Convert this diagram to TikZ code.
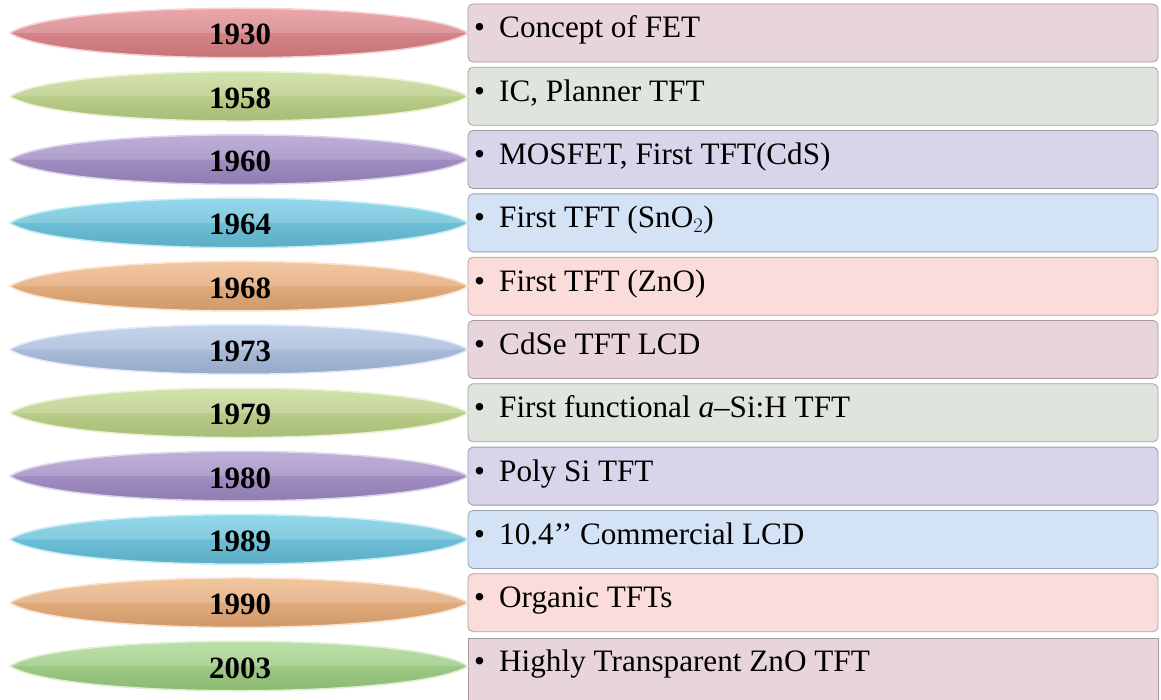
\documentclass[tikz,border=0pt]{standalone}
\usepackage{fontspec}
\setmainfont{Liberation Serif}
\usetikzlibrary{calc, positioning}

% lens colours
\definecolor{lensred}{HTML}{E8868B}
\definecolor{lenslime}{HTML}{C6DE8C}
\definecolor{lenspurple}{HTML}{A891D0}
\definecolor{lenscyan}{HTML}{6ACDEA}
\definecolor{lensorange}{HTML}{F6B47C}
\definecolor{lensblue}{HTML}{B1C8EC}
\definecolor{lensgreen}{HTML}{A4DA86}
% box colours
\definecolor{boxpink}{HTML}{E8D4DD}
\definecolor{boxsage}{HTML}{DFE4DC}
\definecolor{boxlilac}{HTML}{DAD4EA}
\definecolor{boxsky}{HTML}{D3E2F4}
\definecolor{boxrose}{HTML}{FADCDA}

\begin{document}
\begin{tikzpicture}[x=1pt, y=-1pt,
   evbox/.style={draw=#1!72!black, fill=#1, line width=0.8pt, rounded corners=5pt,
      minimum width=690pt, minimum height=58pt, inner sep=0pt},
   lastbox/.style={draw=#1!72!black, fill=#1, line width=0.8pt, sharp corners,
      minimum width=690pt, minimum height=62pt, inner sep=0pt, yshift=-3pt},
   yearlabel/.style={anchor=base, inner sep=0pt, font=\fontsize{31}{34}\selectfont\bfseries},
   evtext/.style={anchor=base west, inner sep=0pt, font=\fontsize{31.2}{34}\selectfont}]
   \useasboundingbox (0,0) rectangle (1161,700);
   \foreach \yr/\txt/\lc/\rc/\bx [count=\i from 0] in {
      1930/{Concept of FET}/lensred/boxpink/evbox,
      1958/{IC, Planner TFT}/lenslime/boxsage/evbox,
      1960/{MOSFET, First TFT(CdS)}/lenspurple/boxlilac/evbox,
      1964/{First TFT (SnO$_2$)}/lenscyan/boxsky/evbox,
      1968/{First TFT (ZnO)}/lensorange/boxrose/evbox,
      1973/{CdSe TFT LCD}/lensblue/boxpink/evbox,
      1979/{First functional \textit{a}–Si:H TFT}/lenslime/boxsage/evbox,
      1980/{Poly Si TFT}/lenspurple/boxlilac/evbox,
      1989/{10.4’’ Commercial LCD}/lenscyan/boxsky/evbox,
      1990/{Organic TFTs}/lensorange/boxrose/evbox,
      2003/{Highly Transparent ZnO TFT}/lensgreen/boxpink/lastbox} {
      \pgfmathsetmacro{\cy}{33+63.3*\i}
      % event box
      \node[\bx=\rc] (box\i) at (813,\cy) {};
      \node[evtext] (ev\i) at (474,\cy+5) {\makebox[25pt][l]{\textbullet}\txt};
      % year lens, with a lighter upper half
      \draw[draw=\lc!40!white, line width=1.5pt, top color=\lc!85!white, bottom color=\lc!82!black]
         (10,\cy) .. controls (60,\cy-33) and (418,\cy-33) .. (468,\cy)
         .. controls (418,\cy+33) and (60,\cy+33) .. (10,\cy) -- cycle;
      \fill[white, opacity=0.18]
         (10,\cy) .. controls (60,\cy-33) and (418,\cy-33) .. (468,\cy) -- cycle;
      \node[yearlabel] (yr\i) at (240,\cy+12) {\yr};
   }
\end{tikzpicture}
\end{document}
